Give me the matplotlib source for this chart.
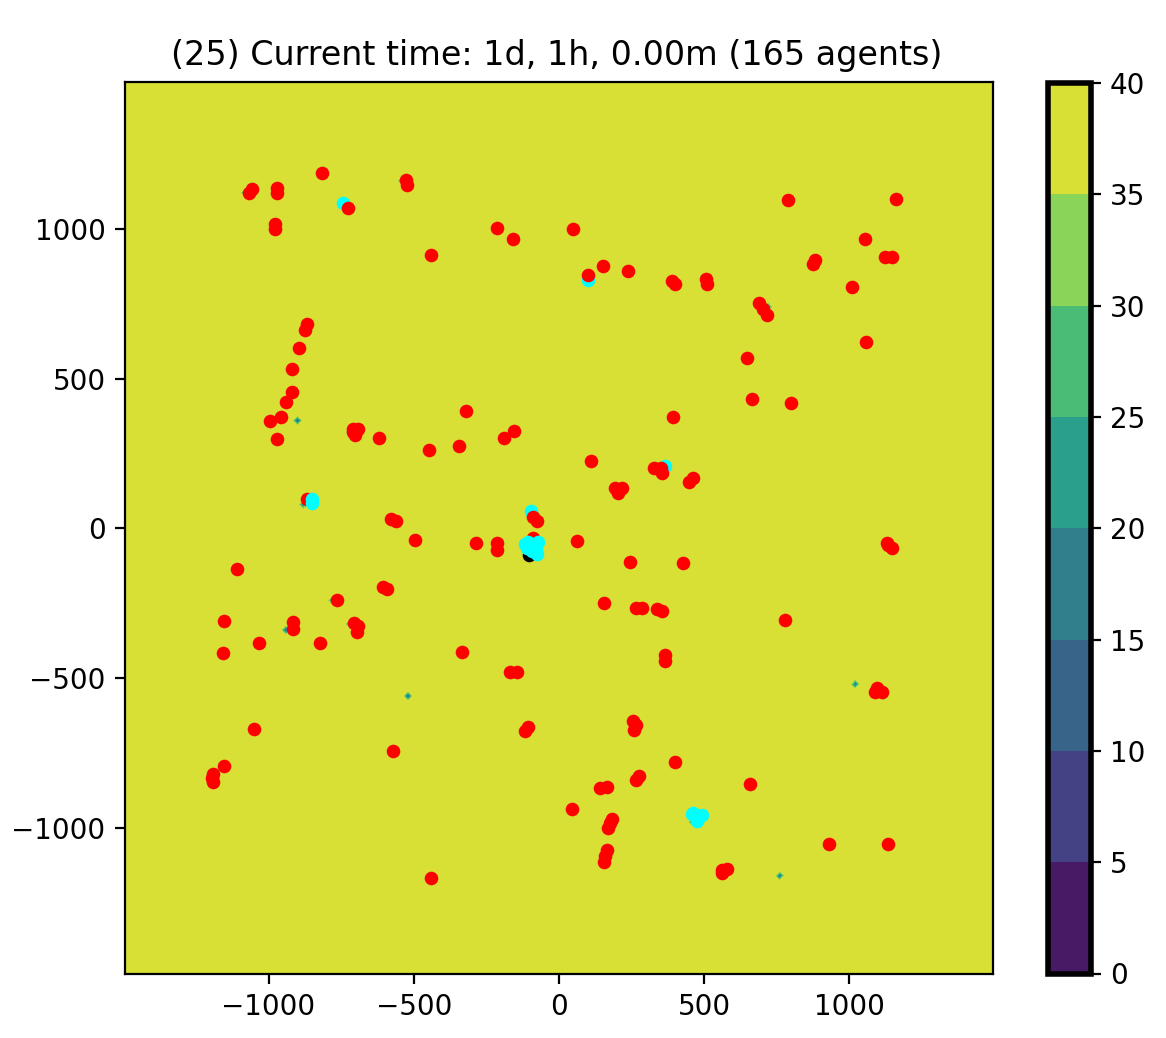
import numpy as np
import matplotlib
matplotlib.use("Agg")
import matplotlib.pyplot as plt

TITLE = "(25) Current time: 1d, 1h, 0.00m (165 agents)"
LEVELS = [0, 5, 10, 15, 20, 25, 30, 35, 40]
BAND_COLORS = ["#481a66", "#444184", "#38648a", "#2f7f8c", "#2a9f8c", "#4abc76", "#8ad558", "#d8df35"]
XY_TICKS = [-1000, -500, 0, 500, 1000]
BASE_VALUE = 38

# agents that are moving
red_agents = [
    (-817, 1186), (-1058, 1132), (-1067, 1121), (-972, 1137), (-972, 1121),
    (-725, 1069), (-527, 1163), (-524, 1145), (-978, 1015), (-978, 998),
    (-212, 1003), (-158, 965), (-442, 912), (-868, 681), (-874, 662),
    (-895, 602), (-920, 531), (-919, 455), (-939, 422), (-958, 370),
    (-995, 358), (-971, 297), (-708, 333), (-691, 333), (-702, 310),
    (-710, 320), (-618, 300), (-321, 392), (-343, 275), (-449, 261),
    (-190, 300), (-154, 325), (-868, 99), (-578, 32), (-562, 24),
    (-88, 38), (-77, 24), (48, 998), (787, 1095), (1160, 1100),
    (1053, 965), (1122, 907), (1145, 907), (881, 896), (873, 881),
    (151, 876), (238, 859), (99, 844), (388, 826), (399, 815),
    (505, 831), (511, 815), (1010, 807), (688, 751), (701, 731),
    (715, 712), (1056, 622), (648, 570), (663, 432), (800, 418),
    (391, 370), (109, 226), (327, 200), (351, 200), (353, 186),
    (193, 133), (218, 133), (204, 117), (460, 167), (448, 155),
    (62, -42), (1128, -48), (1134, -57), (1145, -67), (-496, -40),
    (-286, -48), (-212, -50), (-212, -72), (-1108, -135), (-765, -239),
    (-605, -195), (-593, -201), (-1154, -310), (-917, -312), (-916, -337),
    (-706, -317), (-691, -326), (-696, -346), (-1033, -383), (-823, -382),
    (-1158, -415), (-333, -413), (-169, -480), (-146, -479), (-1050, -671),
    (-108, -662), (-117, -678), (-570, -744), (-1154, -795), (-1190, -821),
    (-1195, -835), (-1190, -847), (-441, -1166), (-91, -31), (243, -111),
    (427, -115), (155, -250), (264, -266), (285, -265), (336, -268),
    (353, -276), (779, -305), (365, -424), (365, -443), (1094, -532),
    (1111, -545), (1088, -545), (254, -645), (265, -658), (258, -674),
    (400, -780), (276, -827), (265, -840), (657, -854), (141, -866),
    (164, -864), (45, -936), (181, -972), (176, -985), (170, -999),
    (164, -1074), (158, -1094), (155, -1114), (929, -1053), (1133, -1055),
    (560, -1141), (579, -1139), (560, -1150),
]

# waiting agents, some hidden behind the red ones, some in front
cyan_back = [(-743, 1087), (-96, 58), (101, 829), (366, 208)]
cyan_front = [
    (-851, 98), (-851, 84),
    (-117, -53), (-71, -46), (-94, -76), (-77, -87), (-100, -60), (-110, -65),
    (-85, -60), (-105, -45), (-80, -70),
    (460, -950), (491, -958), (474, -977), (457, -955), (470, -960), (480, -965),
]

black_agents = [(-102, -90)]

# low spots of the field, (x, y, value)
field_dips = [
    (-900, 355, 10), (-520, -567, 10), (1025, -527, 10), (763, -1168, 10),
    (-1080, 1130, 8), (-1060, 1140, 8), (-540, 1170, 10), (-720, 322, 10),
    (-720, -322, 10), (-930, -345, 8), (-780, -245, 12), (-1200, -835, 10),
    (520, 820, 12), (400, 830, 10), (720, 740, 12), (1070, 625, 12),
    (1025, 810, 12), (1165, 1110, 12), (1065, 970, 12), (48, 1010, 12),
    (1125, -550, 10), (1150, -55, 10), (285, -845, 8), (175, -1005, 10),
    (160, -1120, 12), (945, -1060, 10), (1145, -1060, 10), (470, -985, 10),
    (-870, 85, 12), (-570, 15, 10), (405, 370, 14),
]


def build_field():
    xs = np.arange(-1500, 1501, 20)
    ys = np.arange(-1500, 1501, 20)
    field = np.full((len(ys), len(xs)), float(BASE_VALUE))
    for x, y, value in field_dips:
        field[np.abs(ys - y).argmin(), np.abs(xs - x).argmin()] = value
    return xs, ys, field


def scatter_agents(ax, agents, color, zorder):
    agents = np.array(agents)
    ax.scatter(agents[:, 0], agents[:, 1], s=24, c=color, linewidths=0, zorder=zorder)


fig = plt.figure(figsize=(11.66 / 2, 10.38 / 2), dpi=200)
ax = fig.add_axes([125 / 1166, 1 - 974 / 1038, 868 / 1166, 892 / 1038])
cax = fig.add_axes([1047.5 / 1166, 1 - 973.5 / 1038, 43 / 1166, 890.5 / 1038])

xs, ys, field = build_field()
contours = ax.contourf(xs, ys, field, levels=LEVELS, colors=BAND_COLORS)
scatter_agents(ax, black_agents, "black", 3)
scatter_agents(ax, cyan_back, "cyan", 3)
scatter_agents(ax, red_agents, "red", 4)
scatter_agents(ax, cyan_front, "cyan", 5)

ax.set_xlim(-1494, 1494)
ax.set_ylim(-1488, 1490)
ax.set_xticks(XY_TICKS)
ax.set_yticks(XY_TICKS)
ax.set_title(TITLE, x=0.4975)

cbar = fig.colorbar(contours, cax=cax, ticks=LEVELS)
cbar.outline.set_linewidth(2)

fig.savefig("out.png", dpi=200, facecolor="white")
